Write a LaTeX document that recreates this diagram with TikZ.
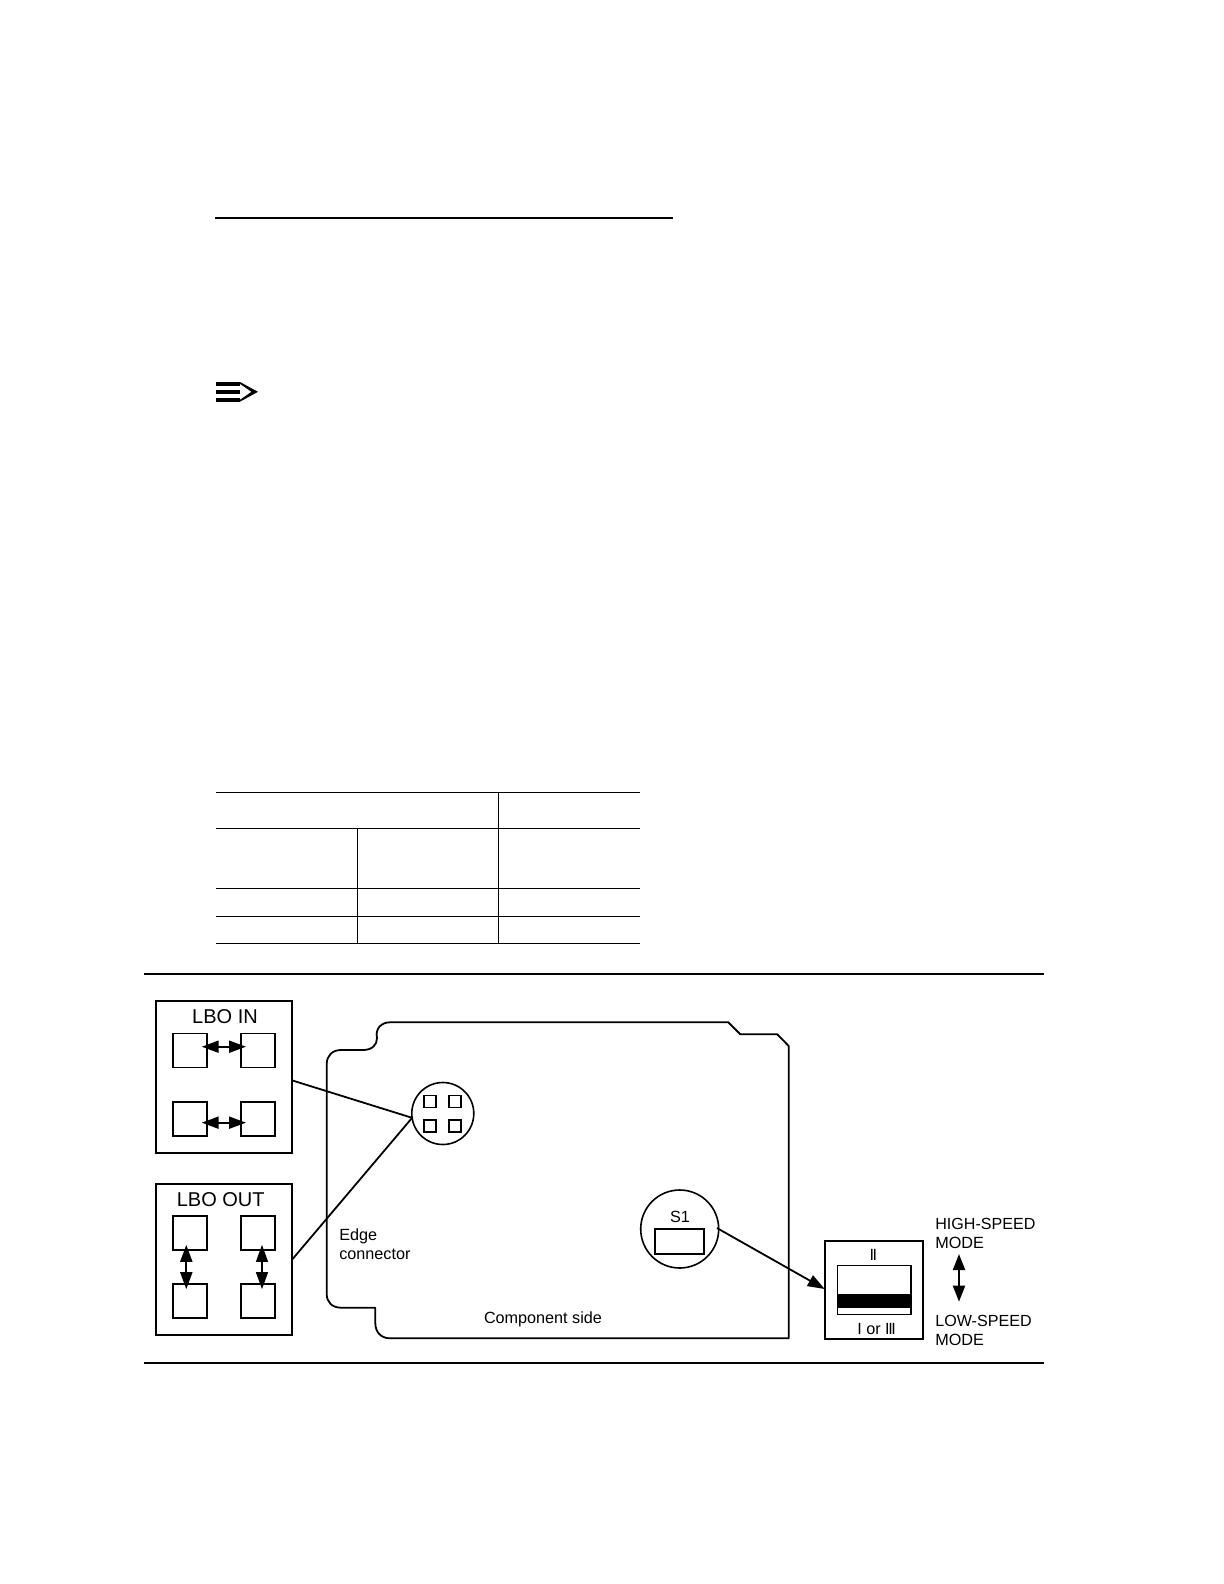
\documentclass[tikz,border=0pt]{standalone}
\usepackage{fontspec}
\setmainfont{Liberation Sans}
\usetikzlibrary{arrows.meta}
\tikzset{
  x=0.5pt,y=-0.5pt,
  boxa/.style={draw,line width=0.9pt,inner sep=0pt,outer sep=0pt,minimum width=#1},
  pad/.style={draw,line width=0.9pt,inner sep=0pt,outer sep=0pt,minimum width=17pt,minimum height=17pt},
  tinypad/.style={draw,line width=0.9pt,inner sep=0pt,outer sep=0pt,minimum width=6.1pt,minimum height=6pt},
  ring/.style={draw,circle,line width=0.8pt,inner sep=0pt,outer sep=0pt,minimum size=#1},
  lab/.style={inner sep=0pt,outer sep=0pt,anchor=base west,font=\fontsize{8.1pt}{9.6pt}\selectfont},
  biglab/.style={inner sep=0pt,outer sep=0pt,anchor=base,font=\fontsize{10pt}{12pt}\selectfont},
  link/.style={line width=0.9pt},
  twohead/.style={line width=1pt,{Triangle[length=8.5pt,width=6pt]}-{Triangle[length=8.5pt,width=6pt]},shorten >=-2.5pt,shorten <=-2.5pt},
  pagerule/.style={line width=1pt},
  tablerule/.style={line width=0.65pt}
}
\begin{document}
\begin{tikzpicture}
\useasboundingbox (0,0) rectangle (1224,1584);
% page rules
\draw[pagerule] (215,217.7) -- (672.7,217.7);
\draw[pagerule] (144,974) -- (1044,974);
\draw[pagerule] (144,1362.7) -- (1044,1362.7);
% note icon
\fill (216,382) rectangle (240,385.7);
\fill (216,390) rectangle (240,393.7);
\fill (216,398) rectangle (240,401.7);
\fill (240,382) -- (258,391.8) -- (240,401.7) -- (240,399.8) -- (251.5,391.8) -- (240,383.9) -- cycle;
% table
\draw[tablerule] (216,792.3) -- (640,792.3);
\draw[tablerule] (216,828.3) -- (640,828.3);
\draw[tablerule] (216,888.3) -- (640,888.3);
\draw[tablerule] (216,916.3) -- (640,916.3);
\draw[tablerule] (216,943.3) -- (640,943.3);
\draw[tablerule] (357.3,828.3) -- (357.3,943.3);
\draw[tablerule] (498.7,792.3) -- (498.7,943.3);
% board outline
\draw[line width=0.9pt,line join=round]
  (390,1022.3) -- (728.3,1022.3) -- (740.3,1034.3) -- (777.3,1034.3) -- (788.7,1046)
  -- (788.7,1338.3) -- (390,1338.3)
  .. controls (381,1338.3) and (375.3,1332) .. (375.3,1323)
  -- (375.3,1307.7) -- (341,1307.7)
  .. controls (332,1307.7) and (326.7,1302) .. (326.7,1294)
  -- (326.7,1064)
  .. controls (326.7,1056) and (332,1050) .. (341,1050)
  -- (363,1050)
  .. controls (372,1050) and (377,1045) .. (377,1038)
  .. controls (375,1029) and (381,1022.3) .. (390,1022.3) -- cycle;
% LBO IN
\node[boxa=68.3pt,minimum height=75.85pt] (lboin) at (224,1076.85) {};
\node[biglab] (lboinlabel) at (225,1023.3) {LBO IN};
\node[pad] (ia) at (189.7,1050.5) {};
\node[pad] (ib) at (258,1050.5) {};
\node[pad] (ic) at (189.7,1118.85) {};
\node[pad] (id) at (258,1118.85) {};
\draw[twohead] ([yshift=1.9pt]ia.east) -- ([yshift=1.9pt]ib.west);
\draw[twohead] ([yshift=-1.9pt]ic.east) -- ([yshift=-1.9pt]id.west);
% LBO OUT
\node[boxa=68.3pt,minimum height=75.65pt] (lboout) at (224,1259.35) {};
\node[biglab] (lbooutlabel) at (220.7,1206) {LBO OUT};
\node[pad] (oa) at (189.7,1232.85) {};
\node[pad] (ob) at (258,1232.85) {};
\node[pad] (oc) at (189.7,1301.15) {};
\node[pad] (od) at (258,1301.15) {};
\draw[twohead] ([xshift=-1.7pt]oa.south) -- ([xshift=-1.7pt]oc.north);
\draw[twohead,line width=0.65pt] ([xshift=2pt]ob.south) -- ([xshift=2pt]od.north);
% connector circle
\node[ring=31pt] (pins) at (442.8,1113.5) {};
\node[tinypad] (pa) at (430.2,1101.5) {};
\node[tinypad] (pb) at (454.9,1101.5) {};
\node[tinypad] (pc) at (430.2,1126.2) {};
\node[tinypad] (pd) at (454.9,1126.2) {};
\draw[link] (lboin.-3) -- (pins.188);
\draw[link] (lboout.east) -- (pins.188);
% S1
\node[ring=39pt] (sw) at (679.7,1229) {};
\node[boxa=24.3pt,minimum height=12.5pt,line width=0.8pt] (swbody) at (679.4,1241.2) {};
\node[lab,anchor=base] (swlabel) at (680,1222.7) {S1};
% labels
\node[lab] (edge1) at (339.3,1240.7) {Edge};
\node[lab] (edge2) at (339.3,1259.3) {connector};
\node[lab] (comp) at (484,1323.8) {Component side};
% switch detail
\node[boxa=49pt,minimum height=49pt] (detail) at (873.7,1289.7) {};
\node[boxa=36.7pt,minimum height=24.5pt,line width=0.8pt] (slot) at (874,1289.8) {};
\fill (837.3,1294) rectangle (910.7,1308);
\node[lab,anchor=base] (ii) at (873.3,1260) {I\kern-0.7pt I};
\node[lab,anchor=base] (iiii) at (876.6,1334) {I or I\kern-0.7pt I\kern-0.7pt I};
\draw[line width=0.9pt,-{Triangle[length=8.5pt,width=6pt]},shorten <=-1pt] (sw.east) -- (detail.west |- 824,1289);
% mode labels
\node[lab,font=\fontsize{8.05pt}{9.6pt}\selectfont] (hs1) at (935.3,1229.3) {HIGH-SPEED};
\node[lab] (hs2) at (935.3,1248.3) {MODE};
\node[lab,font=\fontsize{8.05pt}{9.6pt}\selectfont] (ls1) at (935.3,1326.7) {LOW-SPEED};
\node[lab] (ls2) at (935.3,1345.3) {MODE};
\coordinate (modeup) at (959,1254);
\coordinate (modedown) at (959,1301.7);
\draw[line width=1pt,{Triangle[length=8pt,width=6pt]}-{Triangle[length=8pt,width=6pt]}] (modeup) -- (modedown);
\end{tikzpicture}
\end{document}
